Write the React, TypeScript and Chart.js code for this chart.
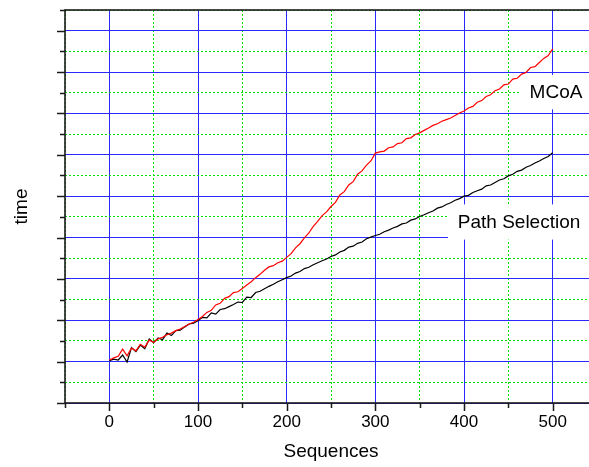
import { useEffect, useRef } from 'react';
import { Chart, registerables } from 'chart.js';

Chart.register(...registerables);

// Sequence numbers (x) sampled every 5
const SEQUENCES: number[] = Array.from({ length: 101 }, (_, i) => i * 5);

// MCoA (red)
const MCOA: number[] = [
  1.04, 1.09, 1.13, 1.30, 1.14, 1.33, 1.26, 1.42, 1.35, 1.52, 1.47,
  1.55, 1.59, 1.65, 1.69, 1.75, 1.79, 1.85, 1.91, 1.95, 2.02,
  2.09, 2.19, 2.24, 2.37, 2.41, 2.53, 2.57, 2.67, 2.69, 2.77,
  2.85, 2.93, 3.03, 3.11, 3.21, 3.29, 3.32, 3.39, 3.43, 3.52,
  3.61, 3.75, 3.85, 3.99, 4.11, 4.27, 4.39, 4.53, 4.62, 4.75,
  4.85, 5.03, 5.11, 5.27, 5.35, 5.53, 5.61, 5.75, 5.85, 6.04,
  6.07, 6.09, 6.17, 6.19, 6.27, 6.29, 6.39, 6.41, 6.49, 6.53,
  6.59, 6.65, 6.71, 6.75, 6.81, 6.85, 6.89, 6.95, 7.01, 7.06,
  7.13, 7.17, 7.27, 7.31, 7.41, 7.45, 7.55, 7.59, 7.69, 7.71,
  7.83, 7.85, 7.95, 7.99, 8.11, 8.13, 8.23, 8.33, 8.40, 8.56,
];

// Path Selection (black)
const PATH_SELECTION: number[] = [
  1.02, 1.06, 1.04, 1.16, 0.99, 1.34, 1.24, 1.40, 1.31, 1.55, 1.46,
  1.57, 1.53, 1.69, 1.63, 1.75, 1.76, 1.84, 1.91, 1.93, 1.99,
  2.07, 2.06, 2.18, 2.15, 2.26, 2.28, 2.33, 2.38, 2.44, 2.43,
  2.56, 2.55, 2.67, 2.70, 2.76, 2.82, 2.87, 2.93, 2.98, 3.03,
  3.07, 3.14, 3.18, 3.25, 3.28, 3.34, 3.39, 3.44, 3.48, 3.54,
  3.58, 3.65, 3.69, 3.77, 3.79, 3.86, 3.89, 3.97, 4.01, 4.05,
  4.08, 4.14, 4.18, 4.23, 4.27, 4.33, 4.35, 4.42, 4.45, 4.51,
  4.55, 4.60, 4.64, 4.71, 4.74, 4.80, 4.84, 4.90, 4.94, 5.00,
  5.02, 5.09, 5.13, 5.17, 5.25, 5.27, 5.33, 5.39, 5.42, 5.49,
  5.53, 5.60, 5.63, 5.70, 5.74, 5.80, 5.85, 5.91, 5.96, 6.05,
];

const X_TICKS: number[] = [-50, 0, 50, 100, 150, 200, 250, 300, 350, 400, 450, 500, 550];
const X_LABELS: number[] = [0, 100, 200, 300, 400, 500];
const Y_TICKS: number[] = [0, 0.5, 1, 1.5, 2, 2.5, 3, 3.5, 4, 4.5, 5, 5.5, 6, 6.5, 7, 7.5, 8, 8.5, 9, 9.5];

const SERIES_NAMES: string[] = ['MCoA', 'Path Selection'];

// label placement (data coordinates) for the in-plot series names
const LABEL_POS = [
  { text: SERIES_NAMES[0], tx: 474, ty: 7.37, bx: 463, by0: 7.1, by1: 7.93 },
  { text: SERIES_NAMES[1], tx: 393, ty: 4.22, bx: 382, by0: 3.95, by1: 4.8 },
];

const FONT = '"Liberation Sans", Arial, Helvetica, sans-serif';

const isMajor = (v: number) => Math.abs(v - Math.round(v / 100) * 100) < 1e-6;
const isMajorY = (v: number) => Math.abs(v - Math.round(v)) < 1e-6;

const framePlugin = {
  id: 'frame',
  beforeDatasetsDraw(chart: any) {
    const { ctx, chartArea, scales } = chart;
    const x = scales.x, y = scales.y;
    ctx.save();
    ctx.fillStyle = '#ffffff';
    for (const l of LABEL_POS) {
      const x0 = x.getPixelForValue(l.bx);
      const yTop = y.getPixelForValue(l.by1);
      const yBot = y.getPixelForValue(l.by0);
      ctx.fillRect(x0, yTop, chartArea.right - x0, yBot - yTop);
    }
    ctx.restore();
  },
  afterDatasetsDraw(chart: any) {
    const { ctx, chartArea, scales } = chart;
    const x = scales.x, y = scales.y;
    const { left, right, top, bottom } = chartArea;
    ctx.save();
    // series name labels
    ctx.fillStyle = '#000';
    ctx.font = `19px ${FONT}`;
    ctx.textBaseline = 'alphabetic';
    ctx.textAlign = 'left';
    for (const l of LABEL_POS) {
      ctx.fillText(l.text, x.getPixelForValue(l.tx), y.getPixelForValue(l.ty));
    }
    // frame
    ctx.strokeStyle = '#1a1a1a';
    ctx.lineWidth = 1.6;
    ctx.strokeRect(left, top, right - left, bottom - top);
    // tick marks
    ctx.lineWidth = 1.5;
    ctx.beginPath();
    for (const v of Y_TICKS) {
      const py = Math.round(y.getPixelForValue(v)) + 0.5;
      const len = isMajorY(v) ? 8 : 5;
      ctx.moveTo(left - len, py);
      ctx.lineTo(left, py);
    }
    for (const v of X_TICKS) {
      const px = Math.round(x.getPixelForValue(v)) + 0.5;
      const len = isMajor(v) ? 8 : 5;
      ctx.moveTo(px, bottom);
      ctx.lineTo(px, bottom + len);
    }
    ctx.stroke();
    ctx.restore();
  },
};

export default function App() {
  const ref = useRef<HTMLCanvasElement | null>(null);
  useEffect(() => {
    if (!ref.current) return;
    const gridColorX = (c: any) => {
      const v = c.tick ? c.tick.value : 0;
      return isMajor(v) ? '#2a2aff' : '#00e000';
    };
    const gridColorY = (c: any) => {
      const v = c.tick ? c.tick.value : 0;
      return isMajorY(v) ? '#2a2aff' : '#00e000';
    };
    const chart = new Chart(ref.current, {
      type: 'line',
      data: {
        datasets: [
          {
            label: SERIES_NAMES[0],
            data: SEQUENCES.map((s, i) => ({ x: s, y: MCOA[i] })),
            borderColor: '#ff0000',
            borderWidth: 1.2,
            pointRadius: 0,
            tension: 0,
            fill: false,
          },
          {
            label: SERIES_NAMES[1],
            data: SEQUENCES.map((s, i) => ({ x: s, y: PATH_SELECTION[i] })),
            borderColor: '#000000',
            borderWidth: 1.2,
            pointRadius: 0,
            tension: 0,
            fill: false,
          },
        ],
      },
      options: {
        responsive: false,
        devicePixelRatio: 1,
        animation: false,
        layout: { padding: { top: 10, left: 0, right: 0, bottom: 0 } },
        plugins: { legend: { display: false }, tooltip: { enabled: false } },
        scales: {
          x: {
            type: 'linear',
            min: -50,
            max: 550,
            afterBuildTicks: (s: any) => {
              s.ticks = X_TICKS.map((v) => ({ value: v }));
            },
            afterFit: (s: any) => {
              s.height = 64;
            },
            ticks: {
              autoSkip: false,
              maxRotation: 0,
              minRotation: 0,
              padding: 9,
              color: '#000',
              font: { family: FONT, size: 17 },
              callback: (v: any) => (X_LABELS.includes(Number(v)) ? String(v) : ''),
            },
            grid: { drawTicks: false, color: gridColorX, lineWidth: 1 },
            border: {
              display: false,
              dash: (c: any) => (c.tick && !isMajor(c.tick.value) ? [2, 2] : []),
            },
            title: {
              display: true,
              text: 'Sequences',
              color: '#000',
              font: { family: FONT, size: 19 },
              padding: { top: 0, bottom: 4 },
            },
          },
          y: {
            type: 'linear',
            min: 0,
            max: 9.5,
            afterBuildTicks: (s: any) => {
              s.ticks = Y_TICKS.map((v) => ({ value: v }));
            },
            afterFit: (s: any) => {
              s.width = 65;
            },
            ticks: { display: false },
            grid: { drawTicks: false, color: gridColorY, lineWidth: 1 },
            border: {
              display: false,
              dash: (c: any) => (c.tick && !isMajorY(c.tick.value) ? [2, 2] : []),
            },
            title: {
              display: true,
              text: 'time',
              color: '#000',
              font: { family: FONT, size: 19 },
              padding: { top: 10, bottom: 0 },
            },
          },
        },
      },
      plugins: [framePlugin],
    } as any);
    return () => chart.destroy();
  }, []);
  return (
    <div style={{ position: 'absolute', left: 0, top: 0, width: 589, height: 467, overflow: 'hidden', background: '#fff' }}>
      <canvas ref={ref} width={606} height={467} style={{ display: 'block' }} />
    </div>
  );
}
